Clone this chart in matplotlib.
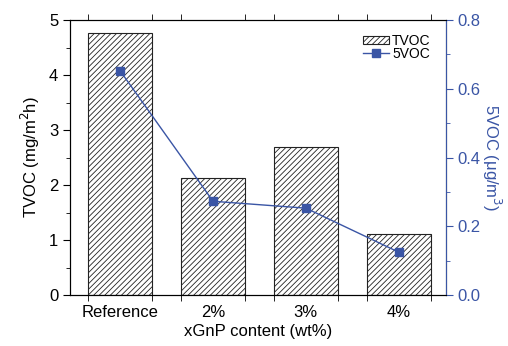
import matplotlib
matplotlib.use('Agg')
import matplotlib.pyplot as plt
from matplotlib.ticker import MultipleLocator, FixedLocator

plt.rcParams['font.family'] = ['Liberation Sans', 'DejaVu Sans']
plt.rcParams['hatch.linewidth'] = 0.6

categories = ['Reference', '2%', '3%', '4%']
tvoc = [4.76, 2.13, 2.69, 1.11]
voc5 = [0.652, 0.273, 0.253, 0.125]

blue = '#3a55a5'

fig = plt.figure(figsize=(5.08, 3.46), dpi=100)
ax = fig.add_axes([0.138, 0.147, 0.74, 0.795])
x = list(range(len(categories)))
width = 0.69
ax.bar(x, tvoc, width=width, facecolor='white', edgecolor='#222222',
       hatch='//////', linewidth=0.8, label='TVOC')
ax.set_xlim(-0.54, 3.51)
ax.set_ylim(0, 5)
ax.set_xticks(x)
ax.set_xticklabels(categories)
edges = [c + s * width / 2 for c in x for s in (-1, 1)]
ax.xaxis.set_minor_locator(FixedLocator(edges))
ax.yaxis.set_major_locator(MultipleLocator(1))
ax.yaxis.set_minor_locator(MultipleLocator(0.5))
ax.tick_params(axis='x', which='major', length=0, labelsize=12, pad=7)
ax.tick_params(axis='x', which='minor', length=4, direction='out', top=True)
ax.tick_params(axis='y', which='major', length=5, direction='out', labelsize=12)
ax.tick_params(axis='y', which='minor', length=3, direction='out')
ax.set_xlabel('xGnP content (wt%)', fontsize=12, labelpad=3)
ax.set_ylabel('TVOC (mg/m$^2$h)', fontsize=12, labelpad=5)

ax2 = ax.twinx()
ax2.plot(x, voc5, '-s', color=blue, markersize=6, linewidth=1.0, label='5VOC')
ax2.set_ylim(0, 0.8)
ax2.yaxis.set_major_locator(MultipleLocator(0.2))
ax2.yaxis.set_minor_locator(MultipleLocator(0.1))
ax2.tick_params(axis='y', which='major', length=5, colors=blue, labelsize=12)
ax2.tick_params(axis='y', which='minor', length=3, colors=blue)
ax2.spines['right'].set_color(blue)
ax2.set_ylabel('5VOC (μg/m$^3$)', fontsize=12, color=blue, rotation=270, labelpad=16)

h1, l1 = ax.get_legend_handles_labels()
h2, l2 = ax2.get_legend_handles_labels()
ax2.legend(h1 + h2, l1 + l2, loc='upper right', frameon=False, fontsize=10,
           handlelength=1.9, handleheight=0.6, labelspacing=-0.1,
           handletextpad=0.2, borderaxespad=0.3, bbox_to_anchor=(0.985, 0.985))

fig.savefig('out.png', dpi=100)
